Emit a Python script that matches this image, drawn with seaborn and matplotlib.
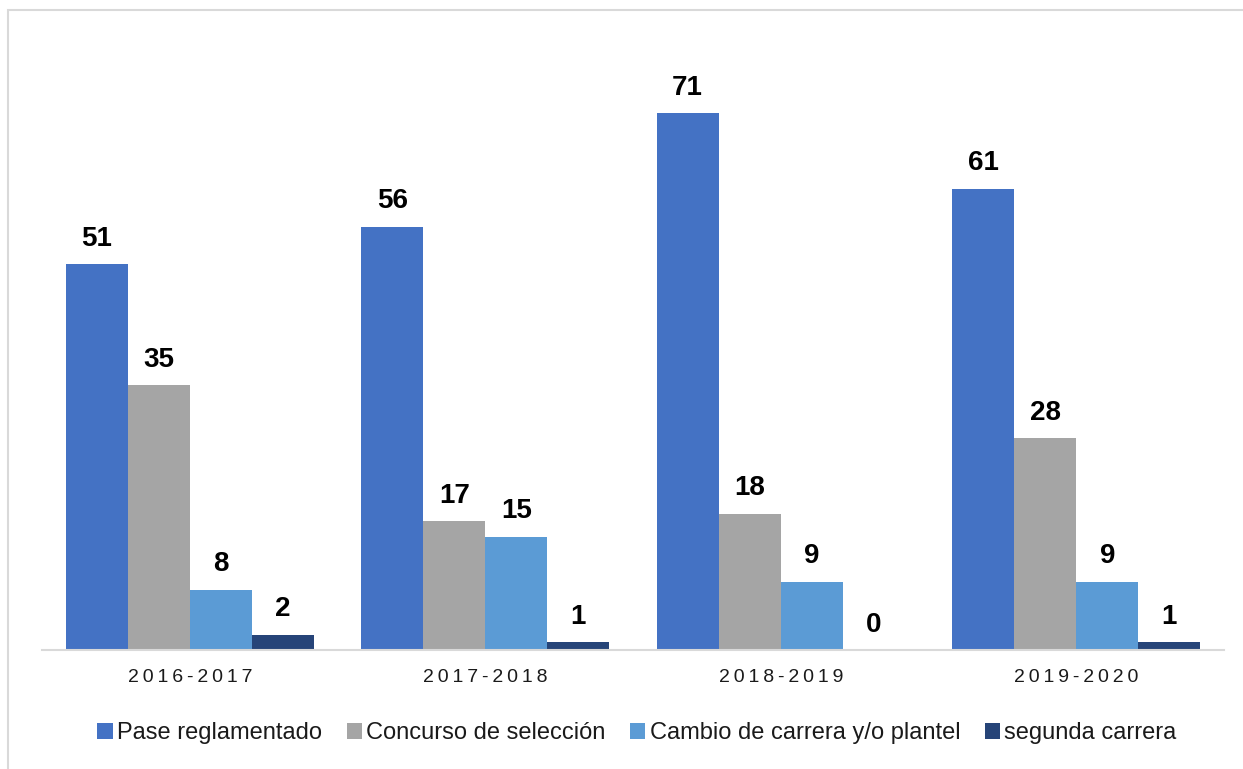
import numpy as np
import pandas as pd
import seaborn as sns
import matplotlib.pyplot as plt
from matplotlib.patches import Rectangle

periodos = ['2016-2017', '2017-2018', '2018-2019', '2019-2020']
series = ['Pase reglamentado', 'Concurso de selección',
          'Cambio de carrera y/o plantel', 'segunda carrera']
pase = [51, 56, 71, 61]
concurso = [35, 17, 18, 28]
cambio = [8, 15, 9, 9]
segunda = [2, 1, 0, 1]
colors = ['#4472C4', '#A5A5A5', '#5B9BD5', '#264478']

rows = []
for s, vals in zip(series, [pase, concurso, cambio, segunda]):
    for p, v in zip(periodos, vals):
        rows.append({'periodo': p, 'serie': s, 'valor': v})
df = pd.DataFrame(rows)

sns.set_theme(style='white')
plt.rcParams['font.family'] = ['Liberation Sans', 'DejaVu Sans']

fig = plt.figure(figsize=(12.43, 7.69), dpi=100)
ax = fig.add_axes([42/1243, 1-650/769, 1182/1243, 605/769])

sns.barplot(data=df, x='periodo', y='valor', hue='serie', palette=colors,
            width=0.84, gap=0, saturation=1, linewidth=0, ax=ax, legend=True)

for c in ax.containers:
    ax.bar_label(c, padding=9, fontsize=20, fontweight='bold', color='black')

ax.set_ylim(0, 80)
ax.set_xlim(-0.5, 3.5)
ax.set_xlabel('')
ax.set_ylabel('')
ax.set_yticks([])
ax.set_xticks(range(len(periodos)))
# letter-spaced tick labels (thin spaces)
ax.set_xticklabels(['\u2009'.join(p) for p in periodos], fontsize=14, color='#1a1a1a')
ax.tick_params(axis='x', length=0, pad=14)
for side in ['top', 'right', 'left']:
    ax.spines[side].set_visible(False)
ax.spines['bottom'].set_color('#D9D9D9')
ax.spines['bottom'].set_linewidth(1.5)

handles, labels = ax.get_legend_handles_labels()
ax.legend(handles, labels, loc='center', bbox_to_anchor=(637/1243, 1-733/769),
          bbox_transform=fig.transFigure, ncol=4, frameon=False, fontsize=17,
          handlelength=0.65, handleheight=0.65, handletextpad=0.17, columnspacing=1.05,
          labelcolor='#1a1a1a')

fig.patches.append(Rectangle((8/1243, -0.1), 1.2, 1-10/769+0.1, transform=fig.transFigure,
                             fill=False, edgecolor='#D9D9D9', linewidth=1.5))

fig.savefig('out.png', dpi=100)
